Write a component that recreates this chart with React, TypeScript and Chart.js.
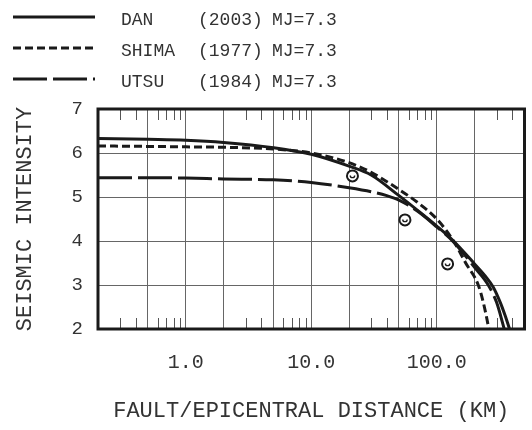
import { useEffect, useRef } from "react";
import { Chart, registerables } from "chart.js";

Chart.register(...registerables);

// ---- data ----
const DAN_DIST = [0.2, 0.5, 1, 2, 5, 10, 20, 30, 50, 70, 100, 136, 200, 244, 282, 321, 351, 380];
const DAN_INT = [6.33, 6.31, 6.29, 6.24, 6.12, 5.97, 5.7, 5.5, 5.03, 4.7, 4.34, 4.0, 3.48, 3.2, 2.95, 2.6, 2.3, 2.0];

const SHIMA_DIST = [0.2, 0.5, 1, 2, 5, 10, 20, 30, 50, 70, 100, 136, 170, 214, 235, 250, 260];
const SHIMA_INT = [6.16, 6.15, 6.14, 6.13, 6.09, 6.0, 5.78, 5.56, 5.17, 4.88, 4.5, 4.0, 3.5, 3.0, 2.6, 2.25, 2.0];

const UTSU_DIST = [0.2, 0.5, 1, 2, 5, 10, 20, 30, 40, 50, 70, 100, 136, 200, 257, 300, 345];
const UTSU_INT = [5.44, 5.44, 5.43, 5.41, 5.39, 5.33, 5.21, 5.12, 5.03, 4.93, 4.68, 4.32, 3.98, 3.4, 3.0, 2.6, 2.0];

const OBS_DIST = [21.3, 55.8, 122];
const OBS_INT = [5.48, 4.48, 3.48];

const X_GRID = [0.5, 1, 2, 5, 10, 20, 50, 100, 200];
const X_MINOR = [0.3, 0.4, 0.6, 0.7, 0.8, 0.9, 3, 4, 6, 7, 8, 9, 30, 40, 60, 70, 80, 90, 300, 400];
const X_LABEL_VALUES = [1, 10, 100];
const X_LABEL_TEXT = ["1.0", "10.0", "100.0"];

const LEGEND_NAMES = ["DAN", "SHIMA", "UTSU"];
const LEGEND_YEARS = ["(2003)", "(1977)", "(1984)"];
const LEGEND_MAG = ["MJ=7.3", "MJ=7.3", "MJ=7.3"];

const X_TITLE = "FAULT/EPICENTRAL DISTANCE (KM)";
const Y_TITLE = "SEISMIC INTENSITY";

const FONT = '"Liberation Mono", "DejaVu Sans Mono", monospace';
const INK = "#1a1a1a";
const TEXT = "#333";

const toPoints = (xs: number[], ys: number[]) => xs.map((x, i) => ({ x, y: ys[i] }));

const decorPlugin = {
  id: "decor",
  afterDatasetsDraw(chart: any) {
    const { ctx, chartArea: a, scales } = chart;
    const xs = scales.x;
    ctx.save();
    // minor tick marks inside top and bottom borders
    ctx.strokeStyle = "#555";
    ctx.lineWidth = 1;
    ctx.beginPath();
    X_MINOR.forEach((v) => {
      const px = Math.round(xs.getPixelForValue(v)) + 0.5;
      ctx.moveTo(px, a.top);
      ctx.lineTo(px, a.top + 11);
      ctx.moveTo(px, a.bottom);
      ctx.lineTo(px, a.bottom - 11);
    });
    ctx.stroke();
    // frame
    ctx.strokeStyle = INK;
    ctx.lineWidth = 3;
    ctx.strokeRect(a.left, a.top, a.right - a.left, a.bottom - a.top);
    // small marks inside observation circles
    const meta = chart.getDatasetMeta(3);
    ctx.lineWidth = 1.4;
    meta.data.forEach((el: any) => {
      ctx.beginPath();
      ctx.arc(el.x, el.y - 0.5, 2.2, 0, Math.PI);
      ctx.stroke();
    });
    ctx.restore();
  },
  afterDraw(chart: any) {
    const { ctx } = chart;
    const rows = [17, 48, 79];
    ctx.save();
    chart.data.datasets.slice(0, 3).forEach((ds: any, i: number) => {
      ctx.beginPath();
      ctx.setLineDash(ds.borderDash || []);
      ctx.lineWidth = ds.borderWidth;
      ctx.strokeStyle = ds.borderColor;
      ctx.lineCap = "butt";
      ctx.moveTo(13, rows[i]);
      ctx.lineTo(95, rows[i]);
      ctx.stroke();
      ctx.setLineDash([]);
      ctx.font = `18px ${FONT}`;
      ctx.fillStyle = TEXT;
      ctx.textBaseline = "middle";
      ctx.textAlign = "left";
      const ty = rows[i] + 3;
      ctx.fillText(LEGEND_NAMES[i], 121, ty);
      ctx.fillText(LEGEND_YEARS[i], 198, ty);
      ctx.fillText(LEGEND_MAG[i], 272, ty);
    });
    ctx.restore();
  },
};

export default function App() {
  const ref = useRef<HTMLCanvasElement | null>(null);

  useEffect(() => {
    if (!ref.current) return;
    const chart = new Chart(ref.current, {
      type: "line",
      data: {
        datasets: [
          {
            label: "DAN",
            data: toPoints(DAN_DIST, DAN_INT),
            borderColor: INK,
            borderWidth: 3,
            borderDash: [],
            pointRadius: 0,
            cubicInterpolationMode: "monotone",
            fill: false,
          },
          {
            label: "SHIMA",
            data: toPoints(SHIMA_DIST, SHIMA_INT),
            borderColor: INK,
            borderWidth: 3,
            borderDash: [8, 4],
            pointRadius: 0,
            cubicInterpolationMode: "monotone",
            fill: false,
          },
          {
            label: "UTSU",
            data: toPoints(UTSU_DIST, UTSU_INT),
            borderColor: INK,
            borderWidth: 3,
            borderDash: [34, 6],
            pointRadius: 0,
            cubicInterpolationMode: "monotone",
            fill: false,
          },
          {
            label: "OBS",
            data: toPoints(OBS_DIST, OBS_INT),
            showLine: false,
            borderColor: INK,
            backgroundColor: "#fff",
            pointRadius: 5.5,
            pointBorderWidth: 2,
            pointBorderColor: INK,
            pointBackgroundColor: "#fff",
          },
        ],
      },
      options: {
        animation: false,
        responsive: false,
        maintainAspectRatio: false,
        layout: { padding: { top: 109, right: 4, left: 0, bottom: 0 } },
        plugins: {
          legend: { display: false },
          tooltip: { enabled: false },
        },
        scales: {
          x: {
            type: "logarithmic",
            min: 0.2,
            max: 500,
            afterFit: (s: any) => {
              s.height = 101;
            },
            afterBuildTicks: (s: any) => {
              s.ticks = X_GRID.map((v) => ({ value: v }));
            },
            grid: { color: "#666", lineWidth: 1, drawTicks: false },
            border: { display: false },
            ticks: {
              autoSkip: false,
              maxRotation: 0,
              padding: 22,
              color: TEXT,
              font: { family: FONT, size: 20 },
              callback: (v: any) => {
                const i = X_LABEL_VALUES.indexOf(Number(v));
                return i >= 0 ? X_LABEL_TEXT[i] : "";
              },
            },
            title: {
              display: true,
              text: X_TITLE,
              color: TEXT,
              font: { family: FONT, size: 22 },
              padding: { top: 0, bottom: 6 },
            },
          },
          y: {
            type: "linear",
            min: 2,
            max: 7,
            afterFit: (s: any) => {
              s.width = 98;
            },
            grid: { color: "#666", lineWidth: 1, drawTicks: false },
            border: { display: false },
            ticks: {
              stepSize: 1,
              padding: 15,
              color: TEXT,
              font: { family: FONT, size: 19 },
            },
            title: {
              display: true,
              text: Y_TITLE,
              color: TEXT,
              font: { family: FONT, size: 22 },
              padding: { top: 12, bottom: 0 },
            },
          },
        },
      },
      plugins: [decorPlugin],
    } as any);
    return () => chart.destroy();
  }, []);

  return (
    <div style={{ position: "absolute", left: 0, top: 0, width: 532, height: 430, background: "#fff" }}>
      <canvas ref={ref} width={532} height={430} style={{ display: "block" }} />
    </div>
  );
}
